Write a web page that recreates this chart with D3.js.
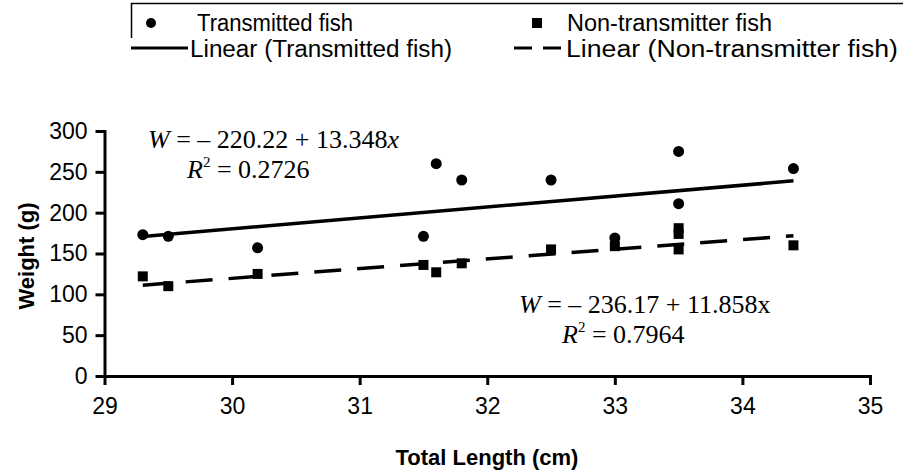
<!DOCTYPE html>
<html><head><meta charset="utf-8">
<script src="https://cdn.jsdelivr.net/npm/d3@7"></script>
<style>body{margin:0;background:#fff}svg{display:block}</style>
</head><body>
<svg id="c" width="903" height="473"></svg>
<script>
const transmittedLength = [29.3, 29.5, 30.2, 31.5, 31.6, 31.8, 32.5, 33.0, 33.5, 33.5, 34.4];
const transmittedWeight = [173, 171, 157, 171, 260, 240, 240, 169, 275, 211, 254];
const nonTransLength = [29.3, 29.5, 30.2, 31.5, 31.6, 31.8, 32.5, 33.0, 33.5, 33.5, 33.5, 34.4];
const nonTransWeight = [122, 110, 125, 136, 127, 138, 155, 159, 181, 174, 155, 160];
const fitTransmitted = {a: -220.22, b: 13.348, r2: "0.2726"};
const fitNonTrans = {a: -236.17, b: 11.858, r2: "0.7964"};
const fitRange = [29.3, 34.4];
const xTicks = [29, 30, 31, 32, 33, 34, 35];
const yTicks = [0, 50, 100, 150, 200, 250, 300];
const legendLabels = ["Transmitted fish", "Non-transmitter fish", "Linear (Transmitted fish)", "Linear (Non-transmitter fish)"];

const sans = "'Liberation Sans', Arial, sans-serif";
const serif = "'Liberation Serif', 'Times New Roman', serif";
const svg = d3.select("#c");
const x = d3.scaleLinear().domain([29, 35]).range([104.5, 870]);
const y = d3.scaleLinear().domain([0, 300]).range([376, 131]);

// axes
const xAxis = svg.append("g").attr("transform", "translate(0,376)")
  .call(d3.axisBottom(x).tickValues(xTicks).tickFormat(d3.format("d")).tickSize(9).tickSizeOuter(0).tickPadding(13));
const yAxis = svg.append("g").attr("transform", "translate(104.5,0)")
  .call(d3.axisLeft(y).tickValues(yTicks).tickFormat(d3.format("d")).tickSize(9).tickSizeOuter(0).tickPadding(8));
[xAxis, yAxis].forEach(g => {
  g.select(".domain").attr("stroke", "#000").attr("stroke-width", 3).attr("stroke-linecap", "square");
  g.selectAll(".tick line").attr("stroke", "#000").attr("stroke-width", 3);
  g.selectAll(".tick text").attr("fill", "#000")
    .style("font-family", sans).style("font-size", "23px");
});

svg.append("text").attr("x", 487).attr("y", 465).attr("text-anchor", "middle")
  .style("font-family", sans).style("font-size", "22px").style("font-weight", "bold")
  .text("Total Length (cm)");
svg.append("text").attr("transform", "translate(34,256) rotate(-90)").attr("text-anchor", "middle")
  .style("font-family", sans).style("font-size", "22px").style("font-weight", "bold")
  .text("Weight (g)");

// fit lines
const line = d3.line().x(d => x(d[0])).y(d => y(d[1]));
const fitPts = f => fitRange.map(v => [v, f.a + f.b * v]);
svg.append("path").attr("d", line(fitPts(fitTransmitted))).attr("stroke", "#000").attr("stroke-width", 3.5).attr("fill", "none");
svg.append("path").attr("d", line(fitPts(fitNonTrans))).attr("stroke", "#000").attr("stroke-width", 3.5).attr("fill", "none")
  .attr("stroke-dasharray", "27,16");

// points
svg.append("g").selectAll("circle").data(transmittedLength).join("circle")
  .attr("cx", d => x(d)).attr("cy", (d, i) => y(transmittedWeight[i])).attr("r", 5.5).attr("fill", "#000");
const sq = 10;
svg.append("g").selectAll("rect").data(nonTransLength).join("rect")
  .attr("x", d => x(d) - sq / 2).attr("y", (d, i) => y(nonTransWeight[i]) - sq / 2)
  .attr("width", sq).attr("height", sq).attr("fill", "#000");

// equations
function eq(x0, y0, intercept, slope, italicX, r2, dx2) {
  const t = svg.append("text").attr("x", x0).attr("y", y0).style("font-family", serif).style("font-size", "26px");
  t.append("tspan").style("font-style", "italic").text("W");
  t.append("tspan").text(" = \u2013 " + Math.abs(intercept).toFixed(2) + " + " + slope.toFixed(3));
  t.append("tspan").style("font-style", italicX ? "italic" : "normal").text("x");
  const t2 = svg.append("text").attr("x", x0 + dx2).attr("y", y0 + 30).style("font-family", serif).style("font-size", "26px");
  t2.append("tspan").style("font-style", "italic").text("R");
  t2.append("tspan").attr("dy", -11).style("font-size", "15px").text("2");
  t2.append("tspan").attr("dy", 11).text(" = " + r2);
}
eq(148, 148, fitTransmitted.a, fitTransmitted.b, true, fitTransmitted.r2, 39);
eq(519, 313, fitNonTrans.a, fitNonTrans.b, false, fitNonTrans.r2, 43);

// legend
svg.append("path").attr("d", "M131.5,38 L131.5,3.5 L903,3.5").attr("stroke", "#000").attr("stroke-width", 1.5).attr("fill", "none");
svg.append("circle").attr("cx", 151).attr("cy", 23).attr("r", 5).attr("fill", "#000");
svg.append("rect").attr("x", 532).attr("y", 18).attr("width", 10).attr("height", 10).attr("fill", "#000");
svg.append("line").attr("x1", 131).attr("x2", 188).attr("y1", 48).attr("y2", 48).attr("stroke", "#000").attr("stroke-width", 3);
svg.append("line").attr("x1", 514).attr("x2", 562).attr("y1", 48).attr("y2", 48).attr("stroke", "#000").attr("stroke-width", 3).attr("stroke-dasharray", "18,11");
const lg = [[197, 31, 0, 156], [567, 31, 1, 205], [190, 57, 2, 262], [566, 57, 3, 332]];
lg.forEach(([lx, ly, i, w]) => svg.append("text").attr("x", lx).attr("y", ly)
  .attr("textLength", w).attr("lengthAdjust", "spacingAndGlyphs")
  .style("font-family", sans).style("font-size", "23px").attr("fill", "#000").text(legendLabels[i]));
</script>
</body></html>
